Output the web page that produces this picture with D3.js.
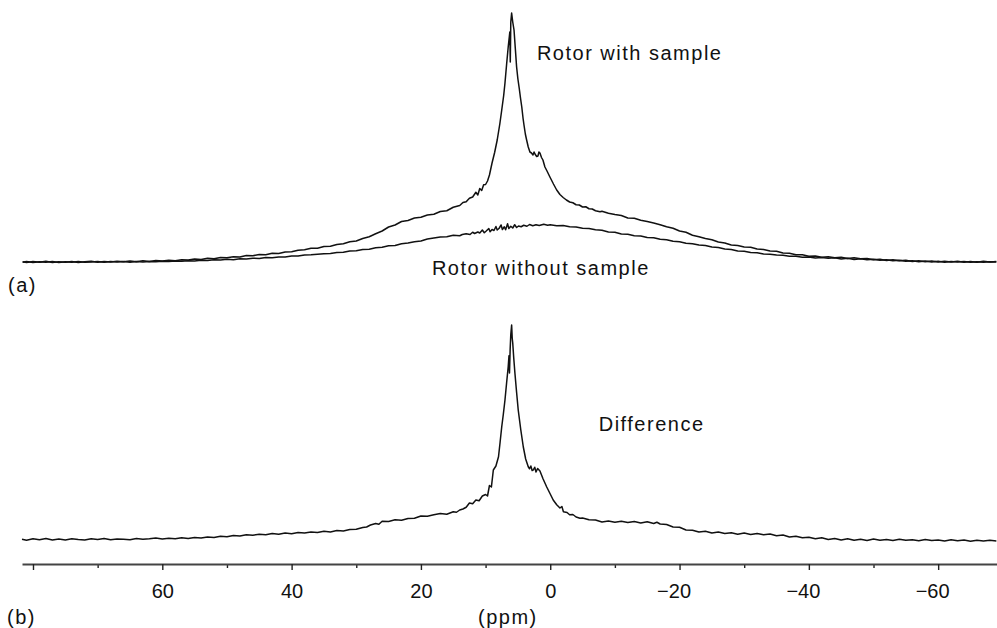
<!DOCTYPE html>
<html>
<head>
<meta charset="utf-8">
<script src="https://cdn.jsdelivr.net/npm/d3@7"></script>
<style>
body { margin: 0; background: #fff; }
text { font-family: "Liberation Sans", Arial, sans-serif; fill: #111; }
</style>
</head>
<body>
<div id="chart"></div>
<script>
// [ppm, intensity]  intensity in a.u., top of the rotor+sample peak = 100
let withSample = [
    [81.6, 0.1], [81, -0.2], [80, 0.2], [79, -0.1], [78, 0.3], [77, -0.2], [76, 0.1], [75, -0.1], [74, 0.2], [73, -0.2],
    [72, 0.1], [71, 0.3], [70, -0.1], [69, 0.2], [68, 0], [67, 0.3], [66, 0.1], [65, 0.4], [64, 0.1], [63, 0.5],
    [62, 0.2], [61, 0.6], [60, 0.4], [59, 0.7], [58, 0.5], [57, 0.9], [56, 0.8], [55, 1.2], [54, 1.0], [53, 1.5],
    [52, 1.3], [51, 1.8], [50, 1.7], [49, 2.1], [48, 2.0], [47, 2.6], [46, 2.5], [45, 3.0], [44, 2.9], [43, 3.5],
    [42, 3.4], [41, 4.0], [40, 4.1], [39, 4.7], [38, 4.9], [37, 5.5], [36, 5.5], [35, 6.2], [34, 6.3], [33, 7.0],
    [32, 7.3], [31, 8.1], [30, 8.4], [29, 9.4], [28, 10.1], [27, 11.3], [26, 12.4], [25, 14.0], [24, 14.8], [23, 16.2],
    [22, 16.6], [21, 17.6], [20, 17.9], [19, 18.8], [18, 19.1], [17, 20.2], [16, 20.5], [15, 21.9], [14, 22.6], [13.5, 23.8],
    [13, 24.1], [12.5, 25.5], [12, 26.0], [11.5, 27.9], [11.2, 26.8], [10.9, 29.4], [10.6, 28.6], [10.3, 30.9], [10.0, 31.0], [9.7, 32.4],
    [9.4, 34.8], [9.0, 39.6], [8.6, 43.8], [8.2, 48.8], [7.8, 55.2], [7.5, 60.8], [7.2, 66.6], [7.0, 71.6], [6.75, 79], [6.5, 86],
    [6.25, 92], [6.18, 80], [6.1, 96], [5.97, 99.6], [5.8, 96], [5.6, 92.8], [5.4, 85.4], [5.2, 78], [5.0, 73.2], [4.8, 69.6],
    [4.6, 65.6], [4.4, 62], [4.2, 57.4], [4.06, 54.8], [3.85, 51.2], [3.65, 48.8], [3.4, 46.0], [3.14, 44.0], [2.9, 43.6], [2.67, 42.8],
    [2.5, 44.0], [2.36, 43.2], [2.1, 42.2], [1.9, 42.4], [1.75, 44.0], [1.59, 43.6], [1.35, 41.8], [1.13, 40.8], [0.82, 38.0], [0.5, 36.4],
    [0.05, 34.0], [-0.5, 31.2], [-1.0, 28.8], [-1.5, 27.0], [-2.0, 25.8], [-2.5, 24.8], [-3, 24.0], [-3.5, 23.7], [-4, 22.9], [-4.5, 22.8],
    [-5, 22.0], [-5.5, 22.1], [-6, 21.3], [-6.5, 21.2], [-7, 20.5], [-7.7, 20.1], [-8, 20.3], [-9, 19.5], [-10, 19.0], [-11, 18.6],
    [-12, 17.6], [-13, 17.5], [-14, 16.7], [-15, 16.2], [-16, 15.6], [-17, 14.9], [-18, 14.1], [-19, 13.5], [-20, 12.4], [-21, 11.9],
    [-22, 10.7], [-23, 10.1], [-24, 9.4], [-25, 8.9], [-26, 8.0], [-27, 7.6], [-28, 6.8], [-29, 6.6], [-30, 6.0], [-31, 5.9],
    [-32, 5.2], [-33, 5.0], [-34, 4.4], [-35, 4.3], [-36, 3.6], [-37, 3.5], [-38, 2.9], [-39, 2.9], [-40, 2.3], [-41, 2.4],
    [-42, 1.9], [-43, 2.1], [-44, 1.7], [-45, 1.9], [-46, 1.4], [-47, 1.7], [-48, 1.3], [-49, 1.4], [-50, 0.9], [-51, 1.1],
    [-52, 0.6], [-53, 0.9], [-54, 0.5], [-55, 0.7], [-56, 0.2], [-57, 0.5], [-58, 0.1], [-59, 0.4], [-60, 0], [-61, 0.3],
    [-62, 0], [-63, 0.3], [-64, -0.1], [-65, 0.2], [-66, -0.1], [-67, 0.3], [-68, 0], [-69, 0.2]
];

let withoutSample = [
    [81.6, -0.1], [81, 0.2], [80, -0.2], [79, 0.1], [78, -0.1], [77, 0.2], [76, -0.2], [75, 0.1], [74, -0.1], [73, 0.2],
    [72, -0.1], [71, 0], [70, 0.2], [69, -0.1], [68, 0.2], [67, 0], [66, 0.2], [65, -0.1], [64, 0.2], [63, 0],
    [62, 0.2], [61, 0.1], [60, 0.3], [59, 0.2], [58, 0.4], [57, 0.3], [56, 0.5], [55, 0.4], [54, 0.7], [53, 0.6],
    [52, 0.9], [51, 0.8], [50, 1.1], [49, 0.9], [48, 1.3], [47, 1.2], [46, 1.5], [45, 1.4], [44, 1.8], [43, 1.7],
    [42, 2.0], [41, 2.0], [40, 2.4], [39, 2.4], [38, 2.8], [37, 2.9], [36, 3.1], [35, 3.3], [34, 3.4], [33, 3.8],
    [32, 3.9], [31, 4.4], [30, 4.5], [29, 5.0], [28, 5.1], [27, 5.7], [26, 5.9], [25, 6.5], [24, 6.6], [23, 7.3],
    [22, 7.6], [21, 8.1], [20, 8.4], [19, 9.2], [18, 9.6], [17, 10.0], [16, 10.1], [15, 10.7], [14, 10.5], [13.6, 11.0],
    [13, 11.3], [12.4, 11.0], [12, 11.9], [11.7, 11.4], [11.2, 12.0], [10.9, 11.6], [10.5, 12.8], [10.2, 11.7], [9.9, 12.4], [9.5, 13.4],
    [9.3, 12.1], [9.0, 13.0], [8.7, 12.6], [8.4, 14.2], [8.2, 12.8], [7.9, 13.5], [7.6, 14.8], [7.4, 13.0], [7.1, 14.1], [6.9, 12.9],
    [6.6, 15.3], [6.4, 13.4], [6.1, 14.3], [5.8, 13.6], [5.5, 14.9], [5.2, 13.8], [4.9, 14.4], [4.5, 14.1], [4.1, 14.7], [3.6, 14.3],
    [3.2, 15.0], [2.7, 14.5], [2.2, 14.9], [1.7, 14.6], [1, 15.1], [0.4, 14.7], [0, 14.9], [-1, 14.5], [-2, 14.6], [-3, 14.1],
    [-4, 14.0], [-5, 13.5], [-6, 13.4], [-7, 12.9], [-8, 12.7], [-9, 12.0], [-10, 11.9], [-11, 11.2], [-12, 11.1], [-13, 10.5],
    [-14, 10.4], [-15, 9.8], [-16, 9.7], [-17, 9.1], [-18, 8.9], [-19, 8.3], [-20, 8.1], [-21, 7.5], [-22, 7.3], [-23, 6.8],
    [-24, 6.6], [-25, 6.0], [-26, 5.8], [-27, 5.2], [-28, 5.0], [-29, 4.4], [-30, 4.3], [-31, 3.8], [-32, 3.7], [-33, 3.2],
    [-34, 3.1], [-35, 2.8], [-36, 2.7], [-37, 2.3], [-38, 2.3], [-39, 1.9], [-40, 2.0], [-41, 1.6], [-42, 1.8], [-43, 1.5],
    [-44, 1.7], [-45, 1.2], [-46, 1.5], [-47, 1.0], [-48, 1.3], [-49, 0.9], [-50, 1.1], [-51, 0.7], [-52, 0.9], [-53, 0.5],
    [-54, 0.7], [-55, 0.3], [-56, 0.5], [-57, 0.1], [-58, 0.4], [-59, 0], [-60, 0.3], [-61, -0.1], [-62, 0.2], [-63, 0],
    [-64, 0.2], [-65, -0.1], [-66, 0.1], [-67, -0.1], [-68, 0.1], [-69, 0]
];

let difference = [
    [81.7, 0.1], [81, -0.3], [80, 0.3], [79, -0.1], [78, 0.4], [77, -0.2], [76, 0.2], [75, -0.2], [74, 0.3], [73, 0],
    [72, -0.2], [71, 0.3], [70, 0], [69, 0.4], [68, -0.1], [67, 0.2], [66, 0.1], [65, -0.1], [64, 0.4], [63, 0.1],
    [62, 0.3], [61, 0.6], [60, 0.2], [59, 0.5], [58, 0.3], [57, 0.7], [56, 0.4], [55, 0.8], [54, 0.6], [53, 1.0],
    [52, 0.8], [51, 1.3], [50, 1.1], [49, 1.6], [48, 1.4], [47, 1.9], [46, 1.7], [45, 2.1], [44, 1.9], [43, 2.4],
    [42, 2.1], [41, 2.6], [40, 2.3], [39, 2.8], [38, 2.6], [37, 3.0], [36, 2.8], [35, 3.3], [34, 3.0], [33, 3.6],
    [32, 3.4], [31, 4.0], [30, 4.1], [29, 4.8], [28.4, 5.0], [27.8, 5.8], [27, 6.4], [26.5, 6.1], [26, 7.3], [25, 7.2],
    [24, 7.9], [23, 7.7], [22, 8.4], [21, 8.5], [20, 9.4], [19, 9.3], [18, 9.9], [17, 10.4], [16, 10.1], [15, 11.1],
    [14.5, 10.9], [14, 11.8], [13.5, 12.2], [13, 12.9], [12.5, 14.6], [12, 14.3], [11.5, 15.8], [11, 15.5], [10.5, 17.4], [10, 18.0],
    [9.7, 17.4], [9.4, 21.6], [9.1, 21.0], [8.8, 27.8], [8.4, 29.4], [8.0, 33.1], [7.75, 39.0], [7.5, 45.1], [7.25, 50.2], [7.0, 55.8],
    [6.75, 62.6], [6.5, 69.1], [6.38, 73.5], [6.3, 66.6], [6.2, 76.0], [6.1, 82.0], [5.97, 85.8], [5.88, 80.5], [5.8, 78.6], [5.65, 72.8],
    [5.46, 66.5], [5.2, 58.8], [4.95, 51.8], [4.55, 43.8], [4.17, 37.1], [3.8, 32.2], [3.4, 29.1], [3.2, 28.3], [3.0, 29.4], [2.8, 27.6],
    [2.63, 27.8], [2.4, 28.9], [2.2, 27.0], [1.95, 28.4], [1.59, 27.4], [1.1, 24.2], [0.56, 21.1], [0.0, 18.2], [-0.46, 15.8], [-1.0, 13.9],
    [-1.5, 12.6], [-1.8, 13.2], [-2.04, 11.1], [-2.6, 10.8], [-3, 9.9], [-3.5, 10.0], [-4, 9.0], [-4.6, 8.5], [-5, 8.6], [-6, 7.9],
    [-7, 7.8], [-8, 7.0], [-9, 7.4], [-10, 6.9], [-11, 7.3], [-12, 6.8], [-13, 7.2], [-14, 6.6], [-15, 7.1], [-16, 6.4],
    [-16.5, 6.9], [-17, 6.2], [-18, 6.0], [-19, 5.0], [-20, 4.9], [-21, 3.8], [-22, 3.7], [-23, 3.0], [-24, 3.3], [-25, 2.6],
    [-26, 3.0], [-27, 2.4], [-28, 2.7], [-29, 2.1], [-30, 2.6], [-31, 2.0], [-32, 2.4], [-33, 1.9], [-34, 2.2], [-35, 1.5],
    [-36, 1.8], [-37, 1.0], [-38, 1.3], [-39, 0.7], [-40, 0.9], [-41, 0.3], [-42, 0.7], [-43, 0], [-44, 0.4], [-45, -0.2],
    [-46, 0.3], [-47, -0.3], [-48, 0.1], [-49, -0.4], [-50, 0.2], [-51, -0.3], [-52, 0], [-53, -0.4], [-54, 0.1], [-55, -0.3],
    [-56, -0.1], [-57, -0.5], [-58, 0], [-59, -0.4], [-60, -0.2], [-61, -0.6], [-62, -0.1], [-63, -0.5], [-64, -0.2], [-65, -0.7],
    [-66, -0.3], [-67, -0.6], [-68, -0.3], [-69, -0.6]
];

let majorTicks = [80, 60, 40, 20, 0, -20, -40, -60];
let minorTicks = [70, 50, 30, 10, -10, -30, -50];
let labelledTicks = [60, 40, 20, 0, -20, -40, -60];

let width = 997, height = 628;

let svg = d3.select("#chart")
    .append("svg")
    .attr("width", width)
    .attr("height", height);

// ppm runs right to left
let x = d3.scaleLinear().domain([81.7, -69.1]).range([22, 997]);
let yA = d3.scaleLinear().domain([0, 100]).range([262, 12]);
let yB = d3.scaleLinear().domain([0, 100]).range([539.5, 289.5]);

let lineA = d3.line()
    .x(function(d) { return x(d[0]); })
    .y(function(d) { return yA(d[1]); });
let lineB = d3.line()
    .x(function(d) { return x(d[0]); })
    .y(function(d) { return yB(d[1]); });

svg.append("path").datum(withoutSample)
    .attr("d", lineA)
    .attr("fill", "none").attr("stroke", "#111").attr("stroke-width", 1.5).attr("stroke-linejoin", "round");
svg.append("path").datum(withSample)
    .attr("d", lineA)
    .attr("fill", "none").attr("stroke", "#111").attr("stroke-width", 1.5).attr("stroke-linejoin", "round");
svg.append("path").datum(difference)
    .attr("d", lineB)
    .attr("fill", "none").attr("stroke", "#111").attr("stroke-width", 1.5).attr("stroke-linejoin", "round");

// axis
let axisY = 564;
let minorAxis = d3.axisBottom(x)
    .tickValues(minorTicks)
    .tickSize(4)
    .tickSizeOuter(0)
    .tickFormat("");
let majorAxis = d3.axisBottom(x)
    .tickValues(majorTicks)
    .tickSize(6)
    .tickSizeOuter(0)
    .tickPadding(14)
    .tickFormat(function(d) {
        if (labelledTicks.indexOf(d) < 0) return "";
        return d < 0 ? "\u2212" + Math.abs(d) : d;
    });

svg.append("g")
    .attr("transform", "translate(0," + axisY + ")")
    .call(minorAxis)
    .call(function(g) { g.select(".domain").remove(); })
    .selectAll("line").attr("stroke", "#222").attr("stroke-width", 1.4);

let gx = svg.append("g")
    .attr("transform", "translate(0," + axisY + ")")
    .call(majorAxis);
gx.select(".domain").attr("stroke", "#444").attr("stroke-width", 2);
gx.selectAll("line").attr("stroke", "#222").attr("stroke-width", 1.4);
gx.selectAll("text")
    .style("font-size", "20px")
    .style("font-family", "'Liberation Sans', Arial, sans-serif")
    .attr("fill", "#111")
    .attr("dx", function(d) { return d < 0 ? -6 : 0; });

// annotations
function addText(txt, px, py) {
    svg.append("text")
        .attr("x", px)
        .attr("y", py)
        .style("font-size", "20px")
        .style("letter-spacing", "1.5px")
        .text(txt);
}
addText("Rotor with sample", x(2.06), yA(80.8));
addText("Rotor without sample", x(18.3), yA(-5.2));
addText("Difference", x(-7.5), yB(43.4));
addText("(a)", 8, 292);
addText("(b)", 7, 624);
addText("(ppm)", 478, 624);
</script>
</body>
</html>
